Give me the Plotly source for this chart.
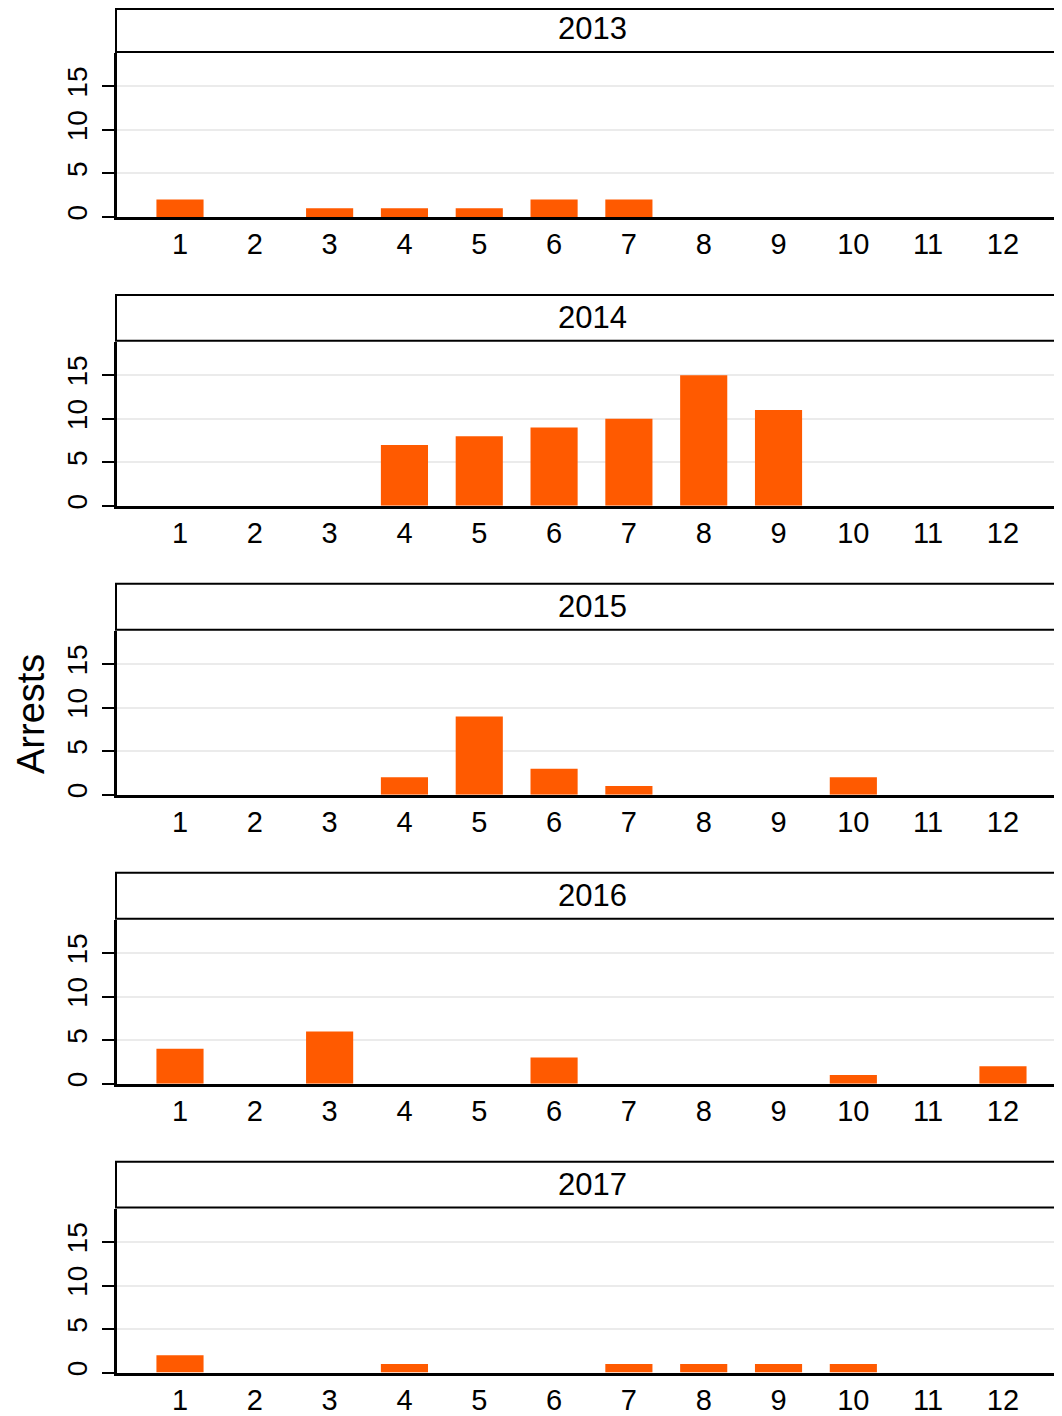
import plotly.graph_objects as go

years = ["2013", "2014", "2015", "2016", "2017"]
months = [1, 2, 3, 4, 5, 6, 7, 8, 9, 10, 11, 12]
arrests_2013 = [2, 0, 1, 1, 1, 2, 2, 0, 0, 0, 0, 0]
arrests_2014 = [0, 0, 0, 7, 8, 9, 10, 15, 11, 0, 0, 0]
arrests_2015 = [0, 0, 0, 2, 9, 3, 1, 0, 0, 2, 0, 0]
arrests_2016 = [4, 0, 6, 0, 0, 3, 0, 0, 0, 1, 0, 2]
arrests_2017 = [2, 0, 0, 1, 0, 0, 1, 1, 1, 1, 0, 0]
series = [arrests_2013, arrests_2014, arrests_2015, arrests_2016, arrests_2017]
y_ticks = [0, 5, 10, 15]

PAGE_OFF = 8  # default body margin of the page
W, H = 1062 - PAGE_OFF, 1416 - PAGE_OFF
FONT = "Liberation Sans, Arial, Helvetica, sans-serif"
BAR = "#FF5A00"


def px(x):
    return (x - PAGE_OFF) / W


def py(y):
    return 1 - (y - PAGE_OFF) / H


fig = go.Figure()
layout = dict(
    width=W, height=H, margin=dict(l=0, r=0, t=0, b=0),
    paper_bgcolor="white", plot_bgcolor="white", showlegend=False,
    font=dict(family=FONT, color="black"),
    shapes=[], annotations=[],
)

step = 289.75
for k, (yr, vals) in enumerate(zip(years, series)):
    off = step * k
    top, bot = 53 + off, 217.5 + off
    s_top, s_bot = max(6 + off, PAGE_OFF + 1), 52 + off
    idx = "" if k == 0 else str(k + 1)
    fig.add_trace(go.Bar(
        x=months, y=vals, width=0.63,
        marker=dict(color=BAR, line=dict(width=0)),
        xaxis="x" + idx, yaxis="y" + idx, hoverinfo="x+y",
    ))
    layout["xaxis" + idx] = dict(
        domain=[px(117), 1], range=[0.158, 12.789], anchor="y" + idx,
        tickvals=months, ticks="", showgrid=False, zeroline=False,
        showline=True, linecolor="black", linewidth=2.5,
        tickfont=dict(size=29, family=FONT, color="black"),
        ticklabelstandoff=0,
    )
    layout["yaxis" + idx] = dict(
        domain=[py(bot), py(top)], range=[0, 18.84], anchor="x" + idx,
        tickvals=y_ticks, ticks="outside", ticklen=12, tickwidth=2,
        tickcolor="black", tickangle=-90,
        showgrid=True, gridcolor="#EBEBEB", gridwidth=2, zeroline=False,
        showline=True, linecolor="black", linewidth=3,
        tickfont=dict(size=28, family=FONT, color="black"),
        ticklabelstandoff=4,
    )
    layout["shapes"].append(dict(
        type="rect", xref="paper", yref="paper",
        x0=px(116), x1=px(1075), y0=py(s_bot), y1=py(s_top),
        line=dict(color="black", width=2), fillcolor="white",
    ))
    layout["annotations"].append(dict(
        text=yr, xref="paper", yref="paper", x=px(592), y=py(29 + off),
        xanchor="center", yanchor="middle", showarrow=False,
        font=dict(size=31, family=FONT, color="black"),
    ))

layout["annotations"].append(dict(
    text="Arrests", xref="paper", yref="paper", x=px(PAGE_OFF), y=py(716),
    xanchor="left", yanchor="middle", showarrow=False, textangle=-90,
    font=dict(size=38, family=FONT, color="black"),
))

fig.update_layout(**layout)
fig.write_html("out.html")
